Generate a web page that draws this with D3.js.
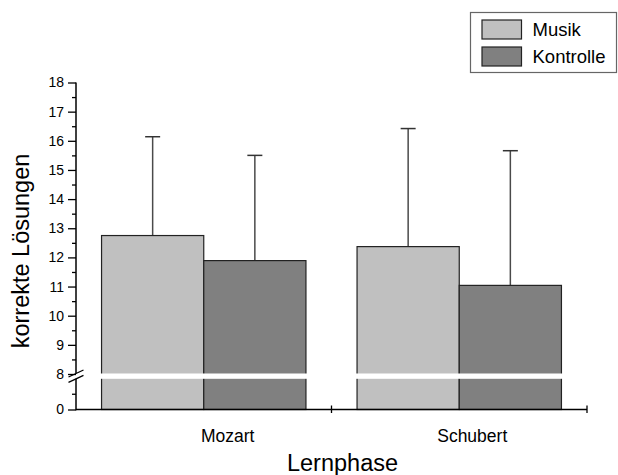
<!DOCTYPE html>
<html>
<head>
<meta charset="utf-8">
<script src="https://cdn.jsdelivr.net/npm/d3@7"></script>
<style>
  html, body { margin: 0; padding: 0; background: #fff; }
  svg { display: block; font-family: Arial, "Liberation Sans", sans-serif; }
</style>
</head>
<body>
<svg id="chart" width="618" height="475"></svg>
<script>
// ---- data ----
const categories = ["Mozart", "Schubert"];
const series = ["Musik", "Kontrolle"];
const musikMeans = [12.75, 12.37];
const musikUpper = [16.14, 16.42];
const kontrolleMeans = [11.89, 11.04];
const kontrolleUpper = [15.50, 15.66];
const upperTicks = [8, 9, 10, 11, 12, 13, 14, 15, 16, 17, 18];
const lowerTicks = [0];
const xTitle = "Lernphase";
const yTitle = "korrekte Lösungen";

// ---- layout ----
const colors = { Musik: "#c0c0c0", Kontrolle: "#808080" };
const labelNudge = [24, 13];
const svg = d3.select("#chart");

const x = d3.scaleBand().domain(categories).range([76, 587]).padding(0);
const xs = d3.scaleBand().domain(series).range([0, x.bandwidth()]).paddingInner(0).paddingOuter(0.25);
const yU = d3.scaleLinear().domain([8, 18]).range([374, 82.5]);
const yL = d3.scaleLinear().domain([0, 8]).range([409.5, 378]);
const y0 = yL(0);
const breakTop = 373.5, breakBot = 378.8;

const rows = categories.map((c, i) => [
  { cat: c, s: "Musik", v: musikMeans[i], e: musikUpper[i] },
  { cat: c, s: "Kontrolle", v: kontrolleMeans[i], e: kontrolleUpper[i] }
]).flat();

// error bars (upward only)
const eb = svg.append("g");
rows.forEach(d => {
  const cx = x(d.cat) + xs(d.s) + xs.bandwidth() / 2;
  eb.append("line").attr("x1", cx).attr("x2", cx).attr("y1", yU(d.v)).attr("y2", yU(d.e))
    .attr("stroke", "#4a4a4a").attr("stroke-width", 1.5);
  eb.append("line").attr("x1", cx - 7.5).attr("x2", cx + 7.5).attr("y1", yU(d.e)).attr("y2", yU(d.e))
    .attr("stroke", "#333").attr("stroke-width", 1.5);
});

// bars
svg.append("g").selectAll("rect").data(rows).join("rect")
  .attr("x", d => x(d.cat) + xs(d.s))
  .attr("width", xs.bandwidth())
  .attr("y", d => yU(d.v))
  .attr("height", d => y0 - yU(d.v))
  .attr("fill", d => colors[d.s])
  .attr("stroke", "#222").attr("stroke-width", 1.2);

// white break band
svg.append("rect").attr("x", x.range()[0] + 1).attr("width", x.range()[1] - x.range()[0] - 1)
  .attr("y", breakTop).attr("height", breakBot - breakTop).attr("fill", "#fff");

// y axis: upper segment
const axU = svg.append("g").attr("transform", "translate(76,0)")
  .call(d3.axisLeft(yU).tickValues(upperTicks).tickSize(8).tickPadding(4).tickFormat(d3.format("d")));
axU.select(".domain").remove();
const axUm = svg.append("g").attr("transform", "translate(76,0)")
  .call(d3.axisLeft(yU).tickValues(d3.range(8.5, 18, 1)).tickSize(4).tickFormat(""));
axUm.select(".domain").remove();
// lower segment
const axL = svg.append("g").attr("transform", "translate(76,0)")
  .call(d3.axisLeft(yL).tickValues(lowerTicks).tickSize(8).tickPadding(4).tickFormat(d3.format("d")));
axL.select(".domain").remove();
const axLm = svg.append("g").attr("transform", "translate(76,0)")
  .call(d3.axisLeft(yL).tickValues([4]).tickSize(4).tickFormat(""));
axLm.select(".domain").remove();

svg.selectAll(".tick text").attr("font-size", 14).attr("fill", "#000")
  .attr("font-family", "Arial, 'Liberation Sans', sans-serif");
svg.selectAll(".tick line").attr("stroke", "#000").attr("stroke-width", 1.3);

svg.append("line").attr("x1", 76).attr("x2", 76).attr("y1", yU(18)).attr("y2", breakTop)
  .attr("stroke", "#000").attr("stroke-width", 1.5);
svg.append("line").attr("x1", 76).attr("x2", 76).attr("y1", breakBot).attr("y2", y0 + 0.75)
  .attr("stroke", "#000").attr("stroke-width", 1.5);
// break slashes
[breakTop, breakBot].forEach(yy => {
  svg.append("line").attr("x1", 68.5).attr("x2", 83.5).attr("y1", yy + 3.5).attr("y2", yy - 3.5)
    .attr("stroke", "#000").attr("stroke-width", 1.3);
});

// x axis
svg.append("line").attr("x1", 76).attr("x2", 587).attr("y1", y0).attr("y2", y0)
  .attr("stroke", "#000").attr("stroke-width", 1.5);
[x("Schubert"), x.range()[1]].forEach(tx => {
  svg.append("line").attr("x1", tx).attr("x2", tx).attr("y1", y0 - 4).attr("y2", y0 + 3.5)
    .attr("stroke", "#000").attr("stroke-width", 1.3);
});
categories.forEach((c, i) => {
  svg.append("text").attr("x", x(c) + x.bandwidth() / 2 + labelNudge[i]).attr("y", 442)
    .attr("text-anchor", "middle").attr("font-size", 17.5).text(c);
});

// axis titles
svg.append("text").attr("x", 342.5).attr("y", 470.5).attr("text-anchor", "middle")
  .attr("font-size", 23.5).text(xTitle);
svg.append("text").attr("transform", "translate(28.5,251) rotate(-90)").attr("text-anchor", "middle")
  .attr("font-size", 23.5).text(yTitle);

// legend
const lg = svg.append("g");
lg.append("rect").attr("x", 470.5).attr("y", 12.5).attr("width", 146).attr("height", 60)
  .attr("fill", "#fff").attr("stroke", "#666").attr("stroke-width", 1.2);
series.forEach((s, i) => {
  lg.append("rect").attr("x", 482).attr("y", 20 + i * 27).attr("width", 39.5).attr("height", 19)
    .attr("fill", colors[s]).attr("stroke", "#222").attr("stroke-width", 1.2);
  lg.append("text").attr("x", 532.5).attr("y", 36 + i * 27.3).attr("font-size", 18.5).text(s);
});
</script>
</body>
</html>
